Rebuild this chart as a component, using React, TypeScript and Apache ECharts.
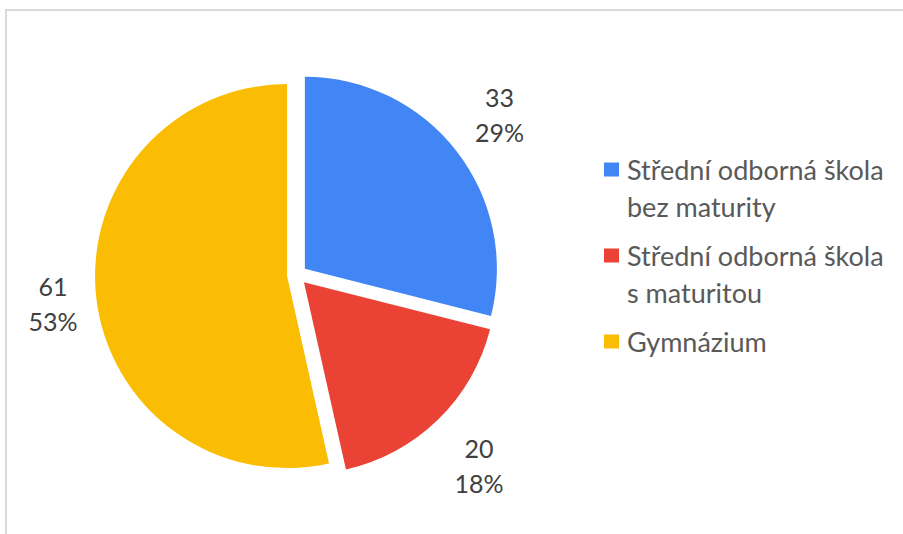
import React, { useEffect, useRef } from 'react';
import * as echarts from 'echarts';

// ---- data ----
const categories = [
  'Střední odborná škola bez maturity',
  'Střední odborná škola s maturitou',
  'Gymnázium',
];
const values = [33, 20, 61];
const colors = ['#4285F4', '#EA4335', '#FBBC04'];

// ---- label placement tuning (layout, not data) ----
const labelLineLength = [59, 64, 53];
const labelLineLength2 = [-33, -33, -39];

function wrapWords(name: string, maxChars: number): string[] {
  const words = name.split(' ');
  const lines: string[] = [];
  let cur = '';
  for (const w of words) {
    const t = cur ? cur + ' ' + w : w;
    if (t.length > maxChars && cur) {
      lines.push(cur);
      cur = w;
    } else {
      cur = t;
    }
  }
  if (cur) lines.push(cur);
  return lines;
}

const FONT = 'Lato';

export default function App() {
  const ref = useRef<HTMLDivElement>(null);

  useEffect(() => {
    if (!ref.current) return;
    const chart = echarts.init(ref.current, undefined, { renderer: 'svg' });

    const rich: Record<string, any> = {
      t: { fontFamily: FONT, fontSize: 27, color: '#595959', lineHeight: 37 },
      g: { width: 8, height: 14 },
      sp: { width: 15, height: 14 },
    };
    colors.forEach((c, i) => {
      rich['sq' + i] = { width: 15, height: 14, backgroundColor: c };
    });

    chart.setOption({
      animation: false,
      backgroundColor: '#ffffff',
      graphic: [
        {
          type: 'rect',
          silent: true,
          shape: { x: 6, y: 10, width: 1000, height: 1000 },
          style: { fill: 'none', stroke: '#dadada', lineWidth: 2 },
        },
      ],
      legend: {
        orient: 'vertical',
        left: 599,
        top: 151,
        padding: 0,
        itemGap: 12,
        itemWidth: 0,
        itemHeight: 14,
        icon: 'rect',
        itemStyle: { opacity: 0 },
        selectedMode: false,
        data: categories,
        formatter: (name: string) => {
          const i = categories.indexOf(name);
          const lines = wrapWords(name, 21);
          return lines
            .map((l, k) => (k === 0 ? `{sq${i}|\u00a0}` : `{sp|\u00a0}`) + `{g|\u00a0}{t|${l}}`)
            .join('\n');
        },
        textStyle: { fontFamily: FONT, fontSize: 27, color: '#595959', lineHeight: 37, rich },
      },
      series: [
        {
          type: 'pie',
          center: [297, 275],
          radius: 192,
          startAngle: 90,
          clockwise: true,
          selectedMode: 'multiple',
          selectedOffset: 10,
          avoidLabelOverlap: false,
          percentPrecision: 0,
          emphasis: { disabled: true },
          select: { itemStyle: { borderWidth: 0 } },
          label: {
            show: true,
            position: 'outside',
            distanceToLabelLine: 5,
            formatter: (p: any) => `{v|${p.value}}\n{v|${p.percent}%}`,
            rich: {
              v: {
                fontFamily: FONT,
                fontSize: 25,
                color: '#404040',
                lineHeight: 35,
                align: 'center',
              },
            },
          },
          labelLine: { show: false },
          data: values.map((v, i) => ({
            name: categories[i],
            value: v,
            selected: true,
            itemStyle: { color: colors[i] },
            labelLine: { show: false, length: labelLineLength[i], length2: labelLineLength2[i] },
          })),
        },
      ],
    });

    return () => chart.dispose();
  }, []);

  return (
    <div
      ref={ref}
      style={{ position: 'absolute', left: 0, top: 0, width: 903, height: 534 }}
    />
  );
}
